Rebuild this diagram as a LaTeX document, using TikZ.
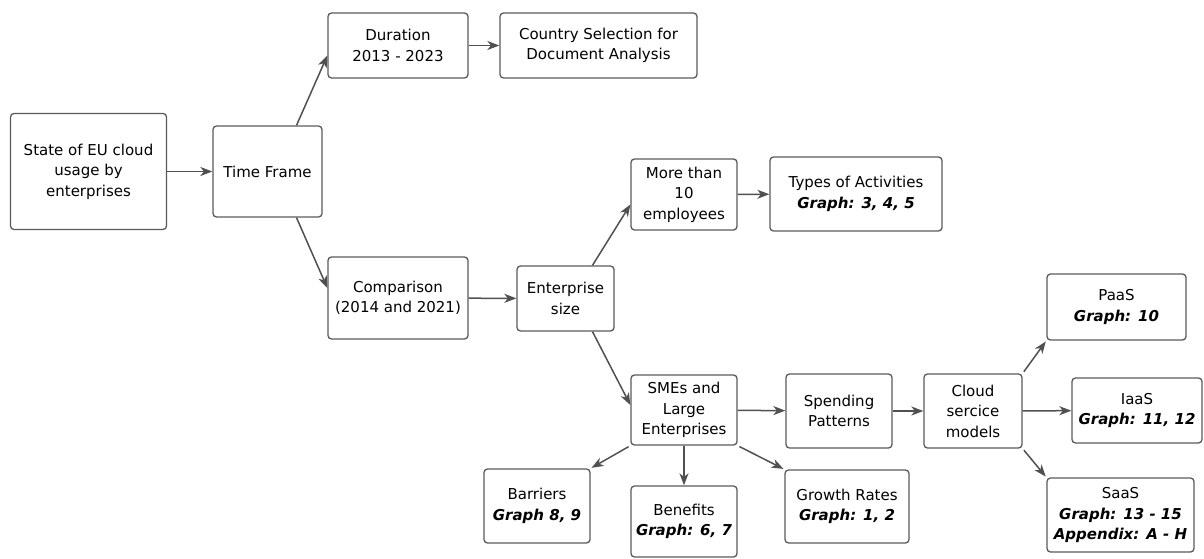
\documentclass[tikz,border=0pt]{standalone}
\usepackage{fontspec}
\setmainfont{DejaVu Sans}
\usetikzlibrary{arrows.meta}
\definecolor{boxc}{HTML}{5A5A5A}
\definecolor{linec}{HTML}{505050}
\newcommand{\grph}[1]{{\bfseries\itshape #1}}
\begin{document}
\begin{tikzpicture}[x=1pt,y=-1pt,
  box/.style={draw=boxc, rounded corners=3.5pt, line width=1.3pt, align=center, inner sep=2pt,
    font=\fontsize{15}{20.5}\selectfont, text=black},
  arr/.style={draw=linec, line width=1.5pt, -{Stealth[length=12pt,width=9pt,inset=3.5pt]}},
  sh/.style={shorten <=2pt, shorten >=1pt}]
\useasboundingbox (0,0) rectangle (1204,559);
\node[box, minimum width=156pt, minimum height=116pt] (s) at (88.5,171.5) {State of EU cloud\\usage by\\enterprises};
\node[box, minimum width=109pt, minimum height=91pt] (tf) at (267.5,171.5) {Time Frame};
\node[box, minimum width=140pt, minimum height=65pt] (dur) at (398,45.5) {Duration\\2013 - 2023};
\node[box, minimum width=197pt, minimum height=65pt] (cs) at (598.5,45.5) {Country Selection for\\Document Analysis};
\node[box, minimum width=106pt, minimum height=71pt] (mt) at (684,194.5) {More than\\10\\employees};
\node[box, minimum width=172pt, minimum height=74pt] (ta) at (856,194) {Types of Activities\\\grph{Graph: 3, 4, 5}};
\node[box, minimum width=140pt, minimum height=82pt] (cmp) at (398,298) {Comparison\\(2014 and 2021)};
\node[box, minimum width=97pt, minimum height=65pt] (es) at (565.5,298.5) {Enterprise\\size};
\node[box, minimum width=106pt, minimum height=70pt] (sme) at (684,410) {SMEs and\\Large\\Enterprises};
\node[box, minimum width=106pt, minimum height=74pt] (sp) at (839,411) {Spending\\Patterns};
\node[box, minimum width=98pt, minimum height=74pt] (cl) at (973,411) {Cloud\\sercice\\models};
\node[box, minimum width=139pt, minimum height=66pt] (paas) at (1116.5,307) {PaaS\\\grph{Graph: 10}};
\node[box, minimum width=130pt, minimum height=65pt] (iaas) at (1137,410.5) {IaaS\\\grph{Graph: 11, 12}};
\node[box, minimum width=147pt, minimum height=74pt] (saas) at (1120.5,515) {SaaS\\\grph{Graph: 13 - 15}\\\grph{Appendix: A - H}};
\node[box, minimum width=106pt, minimum height=74pt] (bar) at (537,506) {Barriers\\\grph{Graph 8, 9}};
\node[box, minimum width=106pt, minimum height=71pt] (ben) at (684,521.5) {Benefits\\\grph{Graph: 6, 7}};
\node[box, minimum width=124pt, minimum height=73pt] (gr) at (847,506.5) {Growth Rates\\\grph{Graph: 1, 2}};

\draw[arr] (s) -- (tf);
\draw[arr] ([xshift=29pt]tf.north) -- ([yshift=-10pt]dur.west);
\draw[arr] ([xshift=29pt]tf.south) -- ([yshift=10pt]cmp.west);
\draw[arr] (dur) -- (cs);
\draw[arr] (cmp) -- (es);
\draw[arr] ([xshift=27pt]es.north) -- ([yshift=-10pt]mt.west);
\draw[arr] ([xshift=27pt]es.south) -- ([yshift=5pt]sme.west);
\draw[arr] (mt) -- (ta);
\draw[arr] (sme) -- (sp);
\draw[arr] (sp) -- (cl);
\draw[arr, sh] (cl.north east) -- (paas.south west);
\draw[arr] (cl) -- (iaas);
\draw[arr, sh] (cl.south east) -- (saas.north west);
\draw[arr, sh] (sme.south west) -- (bar.north east);
\draw[arr] (sme) -- (ben);
\draw[arr, sh] (sme.south east) -- (gr.north west);
\end{tikzpicture}
\end{document}
